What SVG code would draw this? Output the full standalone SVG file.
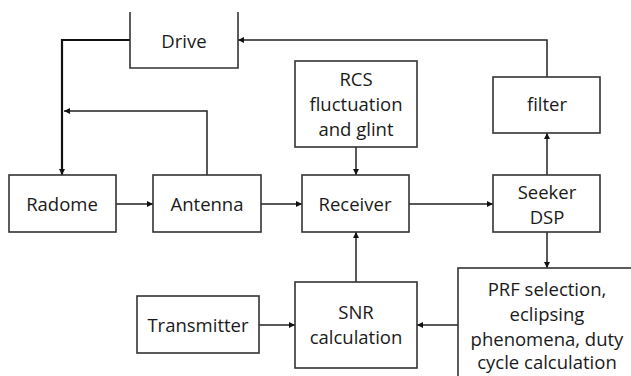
<svg xmlns="http://www.w3.org/2000/svg" width="631" height="376" viewBox="0 0 631 376">
<defs>
<style>
.box{fill:#fff;stroke:#333;stroke-width:1.6}
.t{font-family:"Open Sans","Noto Sans",sans-serif;font-size:18.5px;fill:#1a1a1a;text-anchor:middle}
.c{fill:none;stroke:#222;stroke-width:1.5}
.ck{fill:none;stroke:#111;stroke-width:2.2}
</style>
<marker id="a" viewBox="0 0 8 8" refX="8" refY="4" markerWidth="6" markerHeight="6" markerUnits="userSpaceOnUse" orient="auto">
<path d="M0,0 L8,4 L0,8 z" fill="#111"/>
</marker>
</defs>
<rect width="631" height="376" fill="#fff"/>
<g id="connectors">
<path class="ck" d="M130,40 H62 V175" marker-end="url(#a)"/>
<path class="c" d="M207,175 V111 H64" marker-end="url(#a)"/>
<path class="c" d="M547,77 V40 H238" marker-end="url(#a)"/>
<path class="c" d="M356,147 V175" marker-end="url(#a)"/>
<path class="c" d="M547,175 V133" marker-end="url(#a)"/>
<path class="c" d="M116,204 H153" marker-end="url(#a)"/>
<path class="c" d="M261,204 H302" marker-end="url(#a)"/>
<path class="c" d="M409,204 H493" marker-end="url(#a)"/>
<path class="c" d="M547,232 V268" marker-end="url(#a)"/>
<path class="c" d="M356,282 V232" marker-end="url(#a)"/>
<path class="c" d="M458,325 H417" marker-end="url(#a)"/>
<path class="c" d="M259,325 H295" marker-end="url(#a)"/>
</g>
<g id="drive">
<path class="box" d="M130,12 V68 H238 V12" fill="none"/>
<text class="t" x="184" y="48">Drive</text>
</g>
<g id="rcs">
<rect class="box" x="295" y="61" width="122" height="86"/>
<text class="t" x="356" y="86">RCS</text>
<text class="t" x="356" y="111">fluctuation</text>
<text class="t" x="356" y="136">and glint</text>
</g>
<g id="filter">
<rect class="box" x="493" y="77" width="107" height="56"/>
<text class="t" x="547" y="111">filter</text>
</g>
<g id="radome">
<rect class="box" x="9" y="175" width="107" height="57"/>
<text class="t" x="62" y="211">Radome</text>
</g>
<g id="antenna">
<rect class="box" x="153" y="175" width="108" height="57"/>
<text class="t" x="207" y="211">Antenna</text>
</g>
<g id="receiver">
<rect class="box" x="302" y="175" width="107" height="57"/>
<text class="t" x="355" y="211">Receiver</text>
</g>
<g id="seeker">
<rect class="box" x="493" y="175" width="107" height="57"/>
<text class="t" x="547" y="199">Seeker</text>
<text class="t" x="547" y="224">DSP</text>
</g>
<g id="prf">
<rect class="box" x="458" y="268" width="200" height="150"/>
<text class="t" x="547" y="296">PRF selection,</text>
<text class="t" x="547" y="321">eclipsing</text>
<text class="t" x="547" y="346">phenomena, duty</text>
<text class="t" x="547" y="369">cycle calculation</text>
</g>
<g id="snr">
<rect class="box" x="295" y="282" width="122" height="86"/>
<text class="t" x="356" y="319">SNR</text>
<text class="t" x="356" y="344">calculation</text>
</g>
<g id="transmitter">
<rect class="box" x="137" y="296" width="122" height="57"/>
<text class="t" x="198" y="332">Transmitter</text>
</g>
</svg>
